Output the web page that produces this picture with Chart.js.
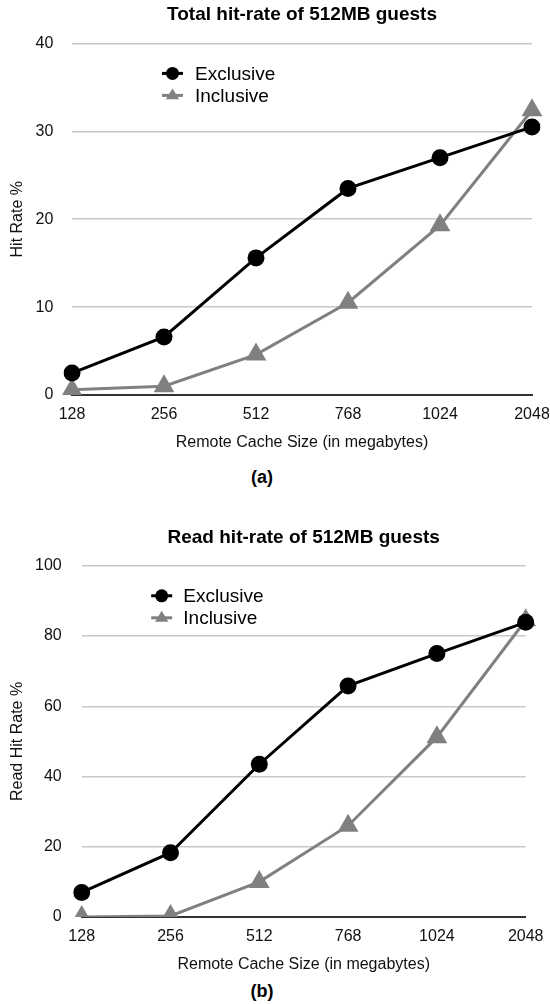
<!DOCTYPE html>
<html>
<head>
<meta charset="utf-8">
<script src="https://cdn.jsdelivr.net/npm/chart.js@4.4.1/dist/chart.umd.min.js"></script>
<style>
  html, body { margin: 0; padding: 0; background: #fff; }
  body { width: 550px; height: 1004px; position: relative; overflow: hidden; font-family: "Liberation Sans", Arial, Helvetica, sans-serif; }
  .wrap { position: absolute; left: 0; width: 550px; }
  .cap { position: absolute; left: 0; width: 524px; text-align: center; font-weight: bold; font-size: 18px; line-height: 20px; color: #000; }
</style>
</head>
<body>
<div class="wrap" style="top:0;height:455px;"><canvas id="chartA"></canvas></div>
<div class="cap" style="top:467px;">(a)</div>
<div class="wrap" style="top:500px;height:477px;"><canvas id="chartB"></canvas></div>
<div class="cap" style="top:981px;">(b)</div>
<script>
// ---- data ----
const categories = ['128', '256', '512', '768', '1024', '2048'];
const seriesNames = ['Exclusive', 'Inclusive'];
const exclusiveTotal = [2.5, 6.6, 15.6, 23.5, 27.0, 30.5];
const inclusiveTotal = [0.6, 1.0, 4.6, 10.5, 19.3, 32.4];
const exclusiveRead = [7.0, 18.3, 43.5, 65.8, 75.0, 83.9];
const inclusiveRead = [0.0, 0.3, 10.0, 26.0, 51.2, 84.5];
const titleA = 'Total hit-rate of 512MB guests';
const titleB = 'Read hit-rate of 512MB guests';
const yTitleA = 'Hit Rate %';
const yTitleB = 'Read Hit Rate %';
const xTitle = 'Remote Cache Size (in megabytes)';
const yTicksA = { min: 0, max: 40, step: 10 };
const yTicksB = { min: 0, max: 100, step: 20 };

const FONT = '"Liberation Sans", Arial, Helvetica, sans-serif';
const BLACK = '#000000';
const GRAY = '#808080';

Chart.defaults.font.family = FONT;
Chart.defaults.color = '#111';

// in-plot legend drawn through a small plugin
const innerLegend = {
  id: 'innerLegend',
  afterDatasetsDraw(chart, args, opts) {
    const ctx = chart.ctx;
    const ca = chart.chartArea;
    const x0 = ca.left + opts.dx;
    let y = ca.top + opts.dy;
    ctx.save();
    chart.data.datasets.forEach((ds) => {
      ctx.strokeStyle = ds.borderColor;
      ctx.fillStyle = ds.pointBackgroundColor;
      ctx.lineWidth = 3;
      ctx.beginPath();
      ctx.moveTo(x0 - 10.5, y);
      ctx.lineTo(x0 + 10.5, y);
      ctx.stroke();
      ctx.beginPath();
      if (ds.pointStyle === 'circle') {
        ctx.arc(x0, y, 6.5, 0, Math.PI * 2);
      } else {
        const r = 7;
        ctx.moveTo(x0, y - r);
        ctx.lineTo(x0 + r * 0.95, y + r * 0.55);
        ctx.lineTo(x0 - r * 0.95, y + r * 0.55);
        ctx.closePath();
      }
      ctx.fill();
      ctx.fillStyle = '#000';
      ctx.font = '19px ' + FONT;
      ctx.textBaseline = 'middle';
      ctx.textAlign = 'left';
      ctx.fillText(ds.label, x0 + opts.textGap, y + 1);
      y += opts.rowGap;
    });
    ctx.restore();
  }
};

function makeChart(id, title, yTitle, exc, inc, yt, lay) {
  return new Chart(document.getElementById(id), {
    type: 'line',
    data: {
      labels: categories,
      datasets: [
        {
          label: seriesNames[0],
          data: exc,
          borderColor: BLACK,
          backgroundColor: BLACK,
          pointBackgroundColor: BLACK,
          pointBorderColor: BLACK,
          borderWidth: 3,
          pointStyle: 'circle',
          pointRadius: 8.5,
          pointBorderWidth: 0,
          tension: 0
        },
        {
          label: seriesNames[1],
          data: inc,
          borderColor: GRAY,
          backgroundColor: GRAY,
          pointBackgroundColor: GRAY,
          pointBorderColor: GRAY,
          borderWidth: 3,
          pointStyle: 'triangle',
          pointRadius: 12,
          pointBorderWidth: 0,
          tension: 0
        }
      ]
    },
    options: {
      responsive: true,
      maintainAspectRatio: false,
      animation: false,
      events: [],
      layout: { padding: { left: 0, right: lay.right, top: 0, bottom: 0 } },
      plugins: {
        legend: { display: false },
        tooltip: { enabled: false },
        title: {
          display: true,
          text: title,
          fullSize: false,
          color: '#000',
          font: { size: 19, weight: 'bold', family: FONT },
          padding: { top: lay.titleTop, bottom: lay.titleBottom }
        },
        innerLegend: { dx: lay.legendDx, dy: 30, textGap: lay.textGap, rowGap: 22 }
      },
      scales: {
        x: {
          type: 'category',
          offset: false,
          grid: { display: false, drawTicks: false },
          border: { display: true, color: '#333', width: 2 },
          ticks: { padding: 10, color: '#111', font: { size: 16 }, maxRotation: 0, autoSkip: false },
          title: { display: true, text: xTitle, color: '#111', font: { size: 16 }, padding: { top: 0, bottom: 3 } },
          afterFit(scale) { scale.height = 60; scale.paddingLeft = 0; scale.paddingRight = 0; }
        },
        y: {
          min: yt.min,
          max: yt.max,
          ticks: { stepSize: yt.step, padding: lay.tickPad, color: '#111', font: { size: 16 } },
          grid: {
            drawTicks: false,
            color: (c) => (c.tick && c.tick.value === 0 ? '#333' : '#c8c8c8'),
            lineWidth: (c) => (c.tick && c.tick.value === 0 ? 2 : 1.5)
          },
          border: { display: false },
          title: { display: true, text: yTitle, color: '#111', font: { size: 16 }, padding: { top: 7.7, bottom: 0 } },
          afterFit(scale) { scale.width = lay.left; scale.paddingTop = 0; scale.paddingBottom = 0; }
        }
      }
    },
    plugins: [innerLegend]
  });
}

makeChart('chartA', titleA, yTitleA, exclusiveTotal, inclusiveTotal, yTicksA,
  { right: 18, left: 72, tickPad: 18.7, titleTop: 3.6, titleBottom: 17, legendDx: 100.5, textGap: 22.5 });
makeChart('chartB', titleB, yTitleB, exclusiveRead, inclusiveRead, yTicksB,
  { right: 24.3, left: 81.7, tickPad: 20, titleTop: 25.9, titleBottom: 17.1, legendDx: 80, textGap: 21.6 });
</script>
</body>
</html>
